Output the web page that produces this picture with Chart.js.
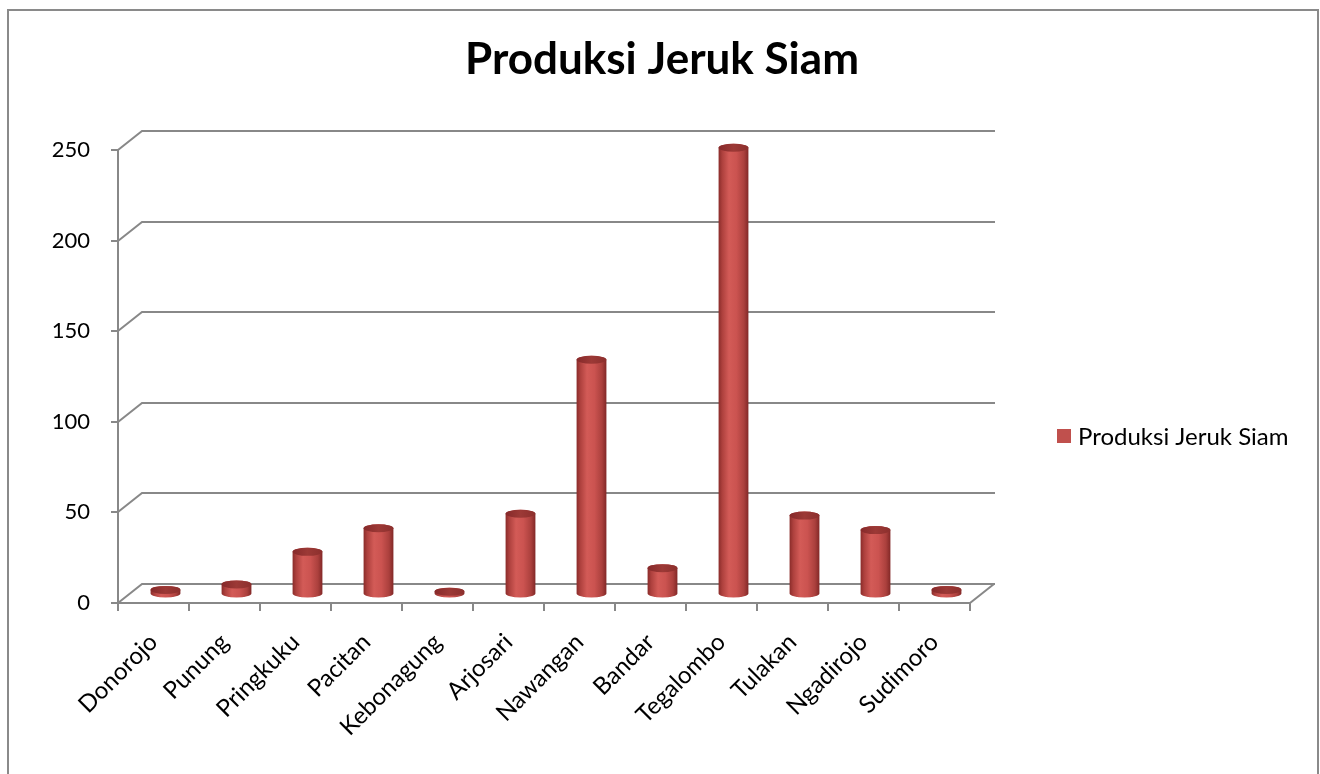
<!DOCTYPE html>
<html><head><meta charset="utf-8">
<script src="https://cdn.jsdelivr.net/npm/chart.js@4.4.0/dist/chart.umd.min.js"></script>
<style>html,body{margin:0;padding:0;background:#fff;overflow:hidden}#wrap{width:1320px;height:774px;position:relative}</style>
</head><body><div id="wrap"><canvas id="c" width="1320" height="774"></canvas></div>
<script>
const categories = ['Donorojo','Punung','Pringkuku','Pacitan','Kebonagung','Arjosari','Nawangan','Bandar','Tegalombo','Tulakan','Ngadirojo','Sudimoro'];
const values = [2,5,23,36,1,44,129,14,246,43,35,2];
const yTicks = [0,50,100,150,200,250];
const seriesName = 'Produksi Jeruk Siam';
const titleText = 'Produksi Jeruk Siam';

const FONT = 'Lato';
const DEPTH_X = 24, DEPTH_Y = 19;
const GRID = '#888888';

const deco = {
  id: 'deco',
  beforeDraw(chart) {
    const ctx = chart.ctx;
    ctx.save();
    ctx.fillStyle = '#fff';
    ctx.fillRect(0, 0, chart.width, chart.height);
    ctx.strokeStyle = '#8a8a8a';
    ctx.lineWidth = 2;
    ctx.strokeRect(8, 10, 1310, 800);
    ctx.fillStyle = '#000';
    ctx.font = 'bold 44px ' + FONT;
    ctx.textAlign = 'center';
    ctx.textBaseline = 'alphabetic';
    ctx.fillText(titleText, 662, 74);
    ctx.fillStyle = '#C0504D';
    ctx.fillRect(1057, 429, 14, 14);
    ctx.fillStyle = '#000';
    ctx.font = '24px ' + FONT;
    ctx.textAlign = 'left';
    ctx.textBaseline = 'middle';
    ctx.fillText(seriesName, 1078, 437);
    ctx.restore();
  },
  beforeDatasetsDraw(chart) {
    const ctx = chart.ctx;
    const a = chart.chartArea;
    const ys = chart.scales.y;
    ctx.save();
    ctx.strokeStyle = GRID;
    ctx.lineWidth = 2;
    ctx.lineCap = 'butt';
    ctx.beginPath();
    yTicks.forEach(t => {
      const y = Math.round(ys.getPixelForValue(t));
      ctx.moveTo(a.left, y);
      ctx.lineTo(a.left + DEPTH_X, y - DEPTH_Y);
      ctx.lineTo(a.right + DEPTH_X + 1, y - DEPTH_Y);
      ctx.moveTo(a.left - 7, y);
      ctx.lineTo(a.left, y);
    });
    const y0 = Math.round(ys.getPixelForValue(0));
    ctx.moveTo(a.left, Math.round(ys.getPixelForValue(yTicks[yTicks.length-1])));
    ctx.lineTo(a.left, y0 + 8);
    ctx.moveTo(a.left, y0);
    ctx.lineTo(a.right, y0);
    ctx.lineTo(a.right + DEPTH_X, y0 - DEPTH_Y);
    const n = categories.length;
    const w = (a.right - a.left) / n;
    for (let i = 0; i <= n; i++) {
      const x = Math.round(a.left + i * w);
      ctx.moveTo(x, y0);
      ctx.lineTo(x, y0 + 8);
    }
    ctx.stroke();
    ctx.restore();
  },
  beforeDatasetDraw() { return false; },
  afterDatasetsDraw(chart) {
    const ctx = chart.ctx;
    const meta = chart.getDatasetMeta(0);
    ctx.save();
    meta.data.forEach(el => {
      const cx = el.x + DEPTH_X / 2;
      const rx = el.width / 2;
      const ry = 4;
      const topY = el.y - DEPTH_Y / 2;
      const baseY = el.base - DEPTH_Y / 2;
      const g = ctx.createLinearGradient(cx - rx, 0, cx + rx, 0);
      g.addColorStop(0, '#8a2c2a');
      g.addColorStop(0.12, '#ad403d');
      g.addColorStop(0.35, '#d35b57');
      g.addColorStop(0.6, '#cb5350');
      g.addColorStop(0.85, '#ab403d');
      g.addColorStop(1, '#822827');
      ctx.beginPath();
      ctx.moveTo(cx - rx, topY);
      ctx.lineTo(cx - rx, baseY);
      ctx.ellipse(cx, baseY, rx, ry, 0, Math.PI, 0, true);
      ctx.lineTo(cx + rx, topY);
      ctx.ellipse(cx, topY, rx, ry, 0, 0, Math.PI, true);
      ctx.closePath();
      ctx.fillStyle = g;
      ctx.fill();
      const gc = ctx.createLinearGradient(cx - rx, 0, cx + rx, 0);
      gc.addColorStop(0, '#86292a');
      gc.addColorStop(0.5, '#9c3936');
      gc.addColorStop(1, '#8c2f2d');
      ctx.beginPath();
      ctx.ellipse(cx, topY, rx, ry, 0, 0, Math.PI * 2);
      ctx.fillStyle = gc;
      ctx.fill();
    });
    ctx.restore();
  }
};

function build() {
  new Chart(document.getElementById('c'), {
    type: 'bar',
    data: {
      labels: categories,
      datasets: [{
        label: seriesName,
        data: values,
        backgroundColor: '#C0504D',
        borderWidth: 0,
        categoryPercentage: 1,
        barPercentage: 0.42
      }]
    },
    options: {
      responsive: false,
      animation: false,
      devicePixelRatio: 1,
      layout: { padding: { top: 150, right: 350, bottom: 0, left: 0 } },
      plugins: { legend: { display: false }, title: { display: false }, tooltip: { enabled: false } },
      scales: {
        x: {
          offset: true,
          grid: { display: false, drawTicks: false },
          border: { display: false },
          ticks: {
            color: '#000', font: { family: FONT, size: 24 },
            minRotation: 45, maxRotation: 45, padding: 25, autoSkip: false
          },
          afterFit(s) { s.height = 171; }
        },
        y: {
          min: 0, max: 250,
          grid: { display: false, drawTicks: false },
          border: { display: false },
          ticks: {
            stepSize: 50, color: '#000', font: { family: FONT, size: 22 }, padding: 28
          },
          afterFit(s) { s.width = 118; }
        }
      }
    },
    plugins: [deco]
  });
}
Promise.all([
  document.fonts.load('bold 44px Lato'),
  document.fonts.load('24px Lato')
]).then(build, build);
</script></body></html>
